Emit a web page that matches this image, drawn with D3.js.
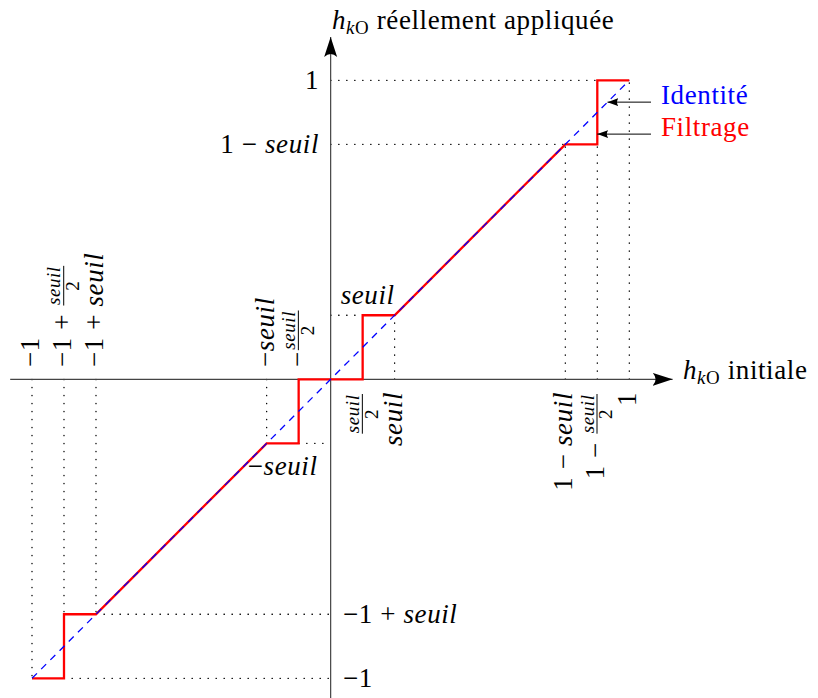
<!DOCTYPE html>
<html>
<head>
<meta charset="utf-8">
<script src="https://cdn.jsdelivr.net/npm/d3@7"></script>
<style>
  body { margin: 0; background: #fff; }
  text { letter-spacing: 0.6px; }
</style>
</head>
<body>
<svg id="chart" width="818" height="698" font-family="'Liberation Serif', 'Times New Roman', Tinos, 'DejaVu Serif', 'Noto Serif', FreeSerif, serif"></svg>
<script>
const seuil = 3 / 14;

// courbe de filtrage : h initiale -> h réellement appliquée
const filtreX = [-1, -1 + seuil / 2, -1 + seuil / 2, -1 + seuil, -seuil, -seuil / 2, -seuil / 2,
  seuil / 2, seuil / 2, seuil, 1 - seuil, 1 - seuil / 2, 1 - seuil / 2, 1];
const filtreY = [-1, -1, -1 + seuil, -1 + seuil, -seuil, -seuil, 0,
  0, seuil, seuil, 1 - seuil, 1 - seuil, 1, 1];
const identiteX = [-1, 1];
const identiteY = [-1, 1];

const ticksHaut = [-1, -1 + seuil / 2, -1 + seuil, -seuil, -seuil / 2];
const labelsHaut = ['−1', '−1 + seuil/2', '−1 + seuil', '−seuil', '−seuil/2'];
const ticksBas = [seuil / 2, seuil, 1 - seuil, 1 - seuil / 2, 1];
const labelsBas = ['seuil/2', 'seuil', '1 − seuil', '1 − seuil/2', '1'];
const ticksGauche = [1, 1 - seuil];
const labelsGauche = ['1', '1 − seuil'];
const ticksDroite = [-1 + seuil, -1];
const labelsDroite = ['−1 + seuil', '−1'];

// pointillés de repère [x1, y1, x2, y2]
const guides = [
  [0, 1, 1 - seuil / 2, 1],
  [0, 1 - seuil, 1 - seuil, 1 - seuil],
  [1 - seuil, 0, 1 - seuil, 1 - seuil],
  [1 - seuil / 2, 0, 1 - seuil / 2, 1 - seuil],
  [1, 0, 1, 1],
  [-1, 0, -1, -1],
  [-1 + seuil / 2, 0, -1 + seuil / 2, -1 + seuil],
  [-1 + seuil, 0, -1 + seuil, -1 + seuil],
  [-1 + seuil, -1 + seuil, 0, -1 + seuil],
  [-1 + seuil / 2, -1, 0, -1],
  [-seuil, 0, -seuil, -seuil],
  [-seuil / 2, -seuil, 0, -seuil],
  [seuil, 0, seuil, seuil],
  [0, seuil, seuil / 2, seuil],
];

const legendNames = ['Identité', 'Filtrage'];
const legendColors = ['#0000ff', '#ff0000'];
const legendTargetX = [0.927, 1 - seuil / 2];
const legendTargetY = [0.927, 0.82];

const size = 27;
const svg = d3.select('#chart');
const x = d3.scaleLinear().domain([-1, 1]).range([32, 629.3]);
const y = d3.scaleLinear().domain([-1, 1]).range([678.3, 80.3]);

const defs = svg.append('defs');
defs.append('marker')
    .attr('id', 'bigArrow')
    .attr('markerUnits', 'userSpaceOnUse')
    .attr('markerWidth', 22).attr('markerHeight', 16)
    .attr('viewBox', '0 -8 22 16')
    .attr('refX', 20).attr('refY', 0)
    .attr('orient', 'auto')
    .append('path')
    .attr('d', 'M0,-6.5 Q6,0 0,6.5 L20,0 Z')
    .attr('fill', '#000');
defs.append('marker')
    .attr('id', 'smallArrow')
    .attr('markerUnits', 'userSpaceOnUse')
    .attr('markerWidth', 12).attr('markerHeight', 10)
    .attr('viewBox', '0 -5 12 10')
    .attr('refX', 11).attr('refY', 0)
    .attr('orient', 'auto')
    .append('path')
    .attr('d', 'M0,-4 Q3,0 0,4 L11,0 Z')
    .attr('fill', '#000');

// pointillés
svg.append('g').selectAll('line')
    .data(guides)
    .enter()
    .append('line')
    .attr('x1', (d) => x(d[0])).attr('y1', (d) => y(d[1]))
    .attr('x2', (d) => x(d[2])).attr('y2', (d) => y(d[3]))
    .attr('stroke', '#000')
    .attr('stroke-width', 1.3)
    .attr('stroke-linecap', 'round')
    .attr('stroke-dasharray', '0.4,7.6')
    .attr('stroke-dashoffset', -8);

// axes
svg.append('line')
    .attr('x1', x(-1.073)).attr('y1', y(0))
    .attr('x2', x(1.145)).attr('y2', y(0))
    .attr('stroke', '#444').attr('stroke-width', 1.2)
    .attr('marker-end', 'url(#bigArrow)');
svg.append('line')
    .attr('x1', x(0)).attr('y1', y(-1.07))
    .attr('x2', x(0)).attr('y2', y(1.145))
    .attr('stroke', '#444').attr('stroke-width', 1.2)
    .attr('marker-end', 'url(#bigArrow)');

const line = d3.line().x((d) => x(d[0])).y((d) => y(d[1]));

svg.append('path')
    .datum(filtreX.map((v, i) => [v, filtreY[i]]))
    .attr('d', line)
    .attr('fill', 'none')
    .attr('stroke', '#ff0000')
    .attr('stroke-width', 2.3);

svg.append('path')
    .datum(identiteX.map((v, i) => [v, identiteY[i]]))
    .attr('d', line)
    .attr('fill', 'none')
    .attr('stroke', '#0000ff')
    .attr('stroke-width', 1.3)
    .attr('stroke-dasharray', '7,6');

// texte mathématique : "seuil" en italique, "seuil/2" en fraction
function mathLabel(parent, str) {
  const g = parent.append('g');
  let cx = 0;
  str.split(/(seuil\/2|seuil)/).filter((s) => s).forEach((part) => {
    if (part === 'seuil/2') {
      const fs = size * 0.7;
      const ax = size * 0.27;
      const num = g.append('text').attr('font-size', fs).attr('font-style', 'italic')
          .attr('text-anchor', 'middle').text('seuil');
      const den = g.append('text').attr('font-size', fs)
          .attr('text-anchor', 'middle').text('2');
      const w = Math.max(num.node().getComputedTextLength(), den.node().getComputedTextLength()) + 3;
      num.attr('x', cx + w / 2).attr('y', -ax - 3.5);
      den.attr('x', cx + w / 2).attr('y', -ax + 3 + 0.66 * fs);
      g.append('line')
          .attr('x1', cx + 1).attr('x2', cx + w - 1)
          .attr('y1', -ax).attr('y2', -ax)
          .attr('stroke', '#000').attr('stroke-width', 1);
      cx += w + 1;
    } else {
      const t = g.append('text')
          .attr('x', cx)
          .attr('font-size', size)
          .attr('font-style', part === 'seuil' ? 'italic' : 'normal')
          .text(part.replace(/ /g, '\u00a0'));
      cx += t.node().getComputedTextLength();
    }
  });
  return {g: g, width: cx};
}

function placeLabel(str, tx, ty, rotate, anchor) {
  const outer = svg.append('g')
      .attr('transform', 'translate(' + tx + ',' + ty + ')' + (rotate ? ' rotate(-90)' : ''));
  const m = mathLabel(outer, str);
  let shift = 0;
  if (anchor === 'end') shift = -m.width;
  if (anchor === 'middle') shift = -m.width / 2;
  m.g.attr('transform', 'translate(' + shift + ',0)');
}

ticksHaut.forEach((v, i) => placeLabel(labelsHaut[i], x(v) + 7, 367, true, 'start'));
ticksBas.forEach((v, i) => placeLabel(labelsBas[i], x(v) + 7, 392, true, 'end'));
ticksGauche.forEach((v, i) => placeLabel(labelsGauche[i], 319, y(v) + 9, false, 'end'));
ticksDroite.forEach((v, i) => placeLabel(labelsDroite[i], 343, y(v) + 9, false, 'start'));
placeLabel('seuil', x(seuil), y(seuil) - 11, false, 'end');
placeLabel('−seuil', (x(-seuil) + x(-seuil / 2)) / 2, y(-seuil) + 32, false, 'middle');

// titres des axes
function axisTitle(tx, ty, rest) {
  const t = svg.append('text')
      .attr('x', tx).attr('y', ty)
      .attr('font-size', size);
  t.append('tspan').attr('font-style', 'italic').text('h');
  t.append('tspan').attr('font-size', size * 0.7).attr('font-style', 'italic')
      .attr('dy', 5).text('k');
  t.append('tspan').attr('font-size', size * 0.7).text('O');
  t.append('tspan').attr('dy', -5).text('\u00a0' + rest);
}
axisTitle(332, 29, 'réellement appliquée');
axisTitle(683, 379, 'initiale');

// légende
const leg = svg.append('g').selectAll('g')
    .data(legendNames)
    .enter()
    .append('g');
leg.append('line')
    .attr('x1', 651)
    .attr('y1', (d, i) => y(legendTargetY[i]))
    .attr('x2', (d, i) => x(legendTargetX[i]))
    .attr('y2', (d, i) => y(legendTargetY[i]))
    .attr('stroke', '#000').attr('stroke-width', 1)
    .attr('marker-end', 'url(#smallArrow)');
leg.append('text')
    .attr('x', 661)
    .attr('y', (d, i) => y(legendTargetY[i]) + 2)
    .attr('font-size', size)
    .attr('fill', (d, i) => legendColors[i])
    .text((d) => d);
</script>
</body>
</html>
